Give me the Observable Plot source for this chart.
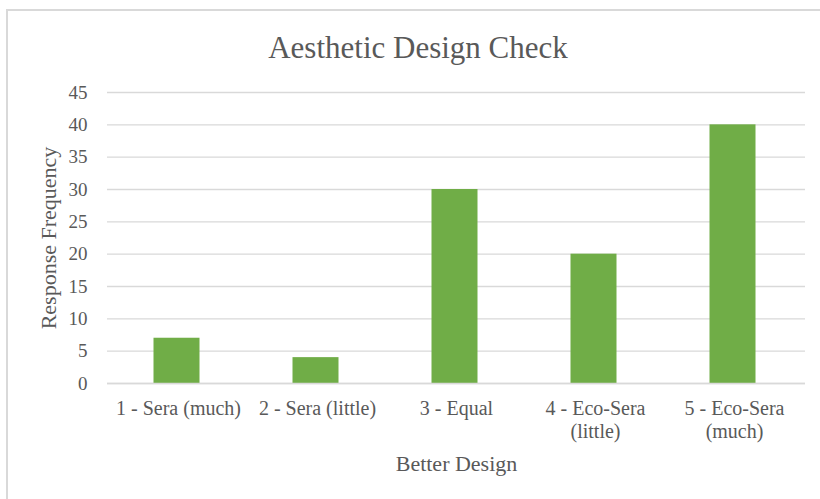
<!DOCTYPE html>
<html>
<head>
<meta charset="utf-8">
<script src="https://cdn.jsdelivr.net/npm/d3@7"></script>
<script src="https://cdn.jsdelivr.net/npm/@observablehq/plot@0.6"></script>
<style>
  html, body { margin: 0; padding: 0; background: #fff; }
  #wrap { position: relative; width: 820px; height: 499px; overflow: hidden; }
  #frame { position: absolute; left: 6px; top: 9px; width: 900px; height: 600px; border-left: 2px solid #d9d9d9; border-top: 2px solid #d9d9d9; box-sizing: border-box; }
  #title { position: relative; height: 75px; box-sizing: border-box; padding-top: 32px; padding-left: 16px; width: 820px;
           font-family: "Liberation Serif", "Times New Roman", serif; font-size: 31px; line-height: 31px; color: #595959; text-align: center; }
  #chart { position: relative; }
  #chart svg { display: block; }
</style>
</head>
<body>
<div id="wrap">
  <div id="frame"></div>
  <div id="title">Aesthetic Design Check</div>
  <div id="chart"></div>
</div>
<script>
const categories = ["1 - Sera (much)", "2 - Sera (little)", "3 - Equal", "4 - Eco-Sera (little)", "5 - Eco-Sera (much)"];
const tickLabels = ["1 - Sera (much)", "2 - Sera (little)", "3 - Equal", "4 - Eco-Sera\n(little)", "5 - Eco-Sera\n(much)"];
const frequencies = [7, 4, 30, 20, 40];
const yTicks = [0, 5, 10, 15, 20, 25, 30, 35, 40, 45];
const xTitle = "Better Design";
const yTitle = "Response Frequency";

const data = categories.map((c, i) => ({category: c, value: frequencies[i]}));
const labelOf = new Map(categories.map((c, i) => [c, tickLabels[i]]));

const font = `"Liberation Serif", "Times New Roman", serif`;
const textColor = "#595959";
const gridColor = "#d9d9d9";

const chart = Plot.plot({
  width: 820,
  height: 424,
  marginTop: 17,
  marginBottom: 116,
  marginLeft: 107,
  marginRight: 15,
  style: {fontFamily: font, color: textColor, background: "transparent", overflow: "visible"},
  x: {domain: categories, paddingInner: 0.668, paddingOuter: 0.334, label: null},
  y: {domain: [0, 45], label: null},
  marks: [
    Plot.gridY(yTicks, {stroke: gridColor, strokeOpacity: 1, strokeWidth: 1.4}),
    Plot.barY(data, {x: "category", y: "value", fill: "#70AD47", dx: -1.5}),
    Plot.ruleY([0], {stroke: gridColor, strokeWidth: 1.4}),
    Plot.axisY(yTicks, {tickSize: 0, tickPadding: 20, fontSize: 19, fill: textColor, label: null}),
    Plot.axisX({tickSize: 0, tickPadding: 15, fontSize: 20, fill: textColor, lineHeight: 1.15, label: null,
                tickFormat: (d) => labelOf.get(d)}),
    Plot.text([xTitle], {frameAnchor: "bottom", dy: 80, fontSize: 22, fill: textColor, lineAnchor: "middle", textAnchor: "middle"}),
    Plot.text([yTitle], {frameAnchor: "left", dx: -59, rotate: -90, fontSize: 22, fill: textColor, lineAnchor: "middle", textAnchor: "middle"})
  ]
});
document.getElementById("chart").appendChild(chart);
</script>
</body>
</html>
